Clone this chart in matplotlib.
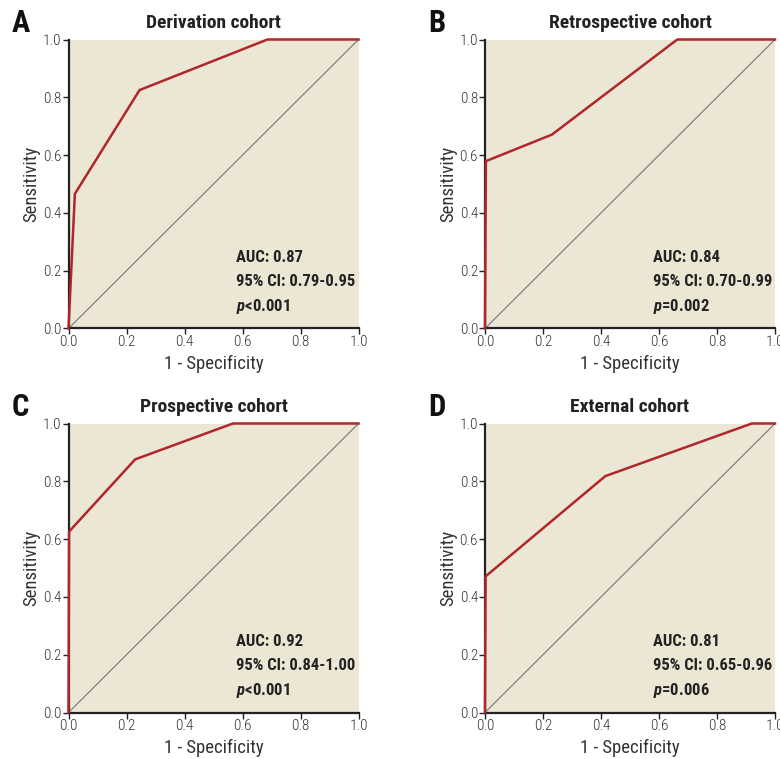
import matplotlib
matplotlib.use("Agg")
from matplotlib import pyplot as plt
from matplotlib import font_manager

# ROC points (1 - specificity, sensitivity)
titles = ["Derivation cohort", "Retrospective cohort", "Prospective cohort", "External cohort"]
letters = ["A", "B", "C", "D"]
fpr = [
    [0.0, 0.022, 0.245, 0.686, 1.0],
    [0.0, 0.003, 0.231, 0.663, 1.0],
    [0.0, 0.002, 0.230, 0.567, 1.0],
    [0.0, 0.002, 0.415, 0.920, 1.0],
]
tpr = [
    [0.0, 0.466, 0.825, 1.0, 1.0],
    [0.0, 0.579, 0.671, 1.0, 1.0],
    [0.0, 0.626, 0.876, 1.0, 1.0],
    [0.0, 0.471, 0.818, 1.0, 1.0],
]
auc = ["0.87", "0.84", "0.92", "0.81"]
ci = ["0.79-0.95", "0.70-0.99", "0.84-1.00", "0.65-0.96"]
pval = ["<0.001", "=0.002", "<0.001", "=0.006"]
ticks = [0.0, 0.2, 0.4, 0.6, 0.8, 1.0]

names = {f.name for f in font_manager.fontManager.ttflist}
family = "DejaVu Sans"
for cand in ["Roboto Condensed", "Liberation Sans Narrow", "Noto Sans"]:
    if cand in names:
        family = cand
        break
plt.rcParams["font.family"] = [family, "DejaVu Sans"]
plt.rcParams["mathtext.fontset"] = "custom"
plt.rcParams["mathtext.it"] = family + ":italic:bold"

BG = "#ece7d4"
RED = "#b0262c"
TXT = "#333333"

fig = plt.figure(figsize=(7.8, 7.59), dpi=100)
W, H = 780, 759
boxes = [(68.5, 39.5), (485, 39.5), (68.5, 423.5), (485, 423.5)]
aw, ah = 290, 289

for i in range(4):
    x0, y0 = boxes[i]
    ax = fig.add_axes([x0 / W, 1 - (y0 + ah) / H, aw / W, ah / H])
    ax.set_facecolor(BG)
    ax.plot([0, 1], [0, 1], color="#808080", lw=0.9, zorder=2)
    ax.plot(fpr[i], tpr[i], color=RED, lw=1.8, zorder=3, clip_on=False)
    ax.set_xlim(0, 1)
    ax.set_ylim(0, 1)
    ax.set_xticks(ticks)
    ax.set_yticks(ticks)
    ax.set_xticklabels([f"{t:.1f}" for t in ticks], fontweight="light")
    ax.set_yticklabels([f"{t:.1f}" for t in ticks], fontweight="light")
    ax.tick_params(direction="out", length=4, width=1, color="#222222",
                   labelsize=11, labelcolor=TXT, pad=1)
    for s in ["top", "right"]:
        ax.spines[s].set_visible(False)
    for s in ["left", "bottom"]:
        ax.spines[s].set_linewidth(1.6)
        ax.spines[s].set_color("#222222")
    ax.set_xlabel("1 - Specificity", fontsize=13.5, color=TXT, labelpad=4)
    ax.set_ylabel("Sensitivity", fontsize=13.5, color=TXT, labelpad=2)
    ax.set_title(titles[i], fontsize=14, fontweight="bold", color="#222222", pad=8)
    ax.text(0.578, 0.246, f"AUC: {auc[i]}", transform=ax.transAxes, fontsize=12,
            fontweight="bold", color="#222222", va="center")
    ax.text(0.578, 0.161, f"95% CI: {ci[i]}", transform=ax.transAxes, fontsize=12,
            fontweight="bold", color="#222222", va="center")
    ax.text(0.578, 0.077, "$p$" + pval[i], transform=ax.transAxes, fontsize=12,
            fontweight="bold", color="#222222", va="center")
    fig.text((x0 - 57) / W, 1 - (y0 - 17) / H, letters[i], fontsize=22,
             fontweight="bold", color="#111111", va="center", ha="left")

fig.savefig("out.png", dpi=100, facecolor="white")
